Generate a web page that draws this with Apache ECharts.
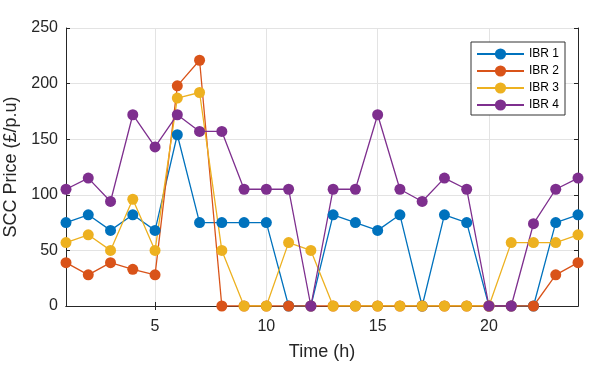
<!DOCTYPE html>
<html>
<head>
<meta charset="utf-8">
<script src="https://cdn.jsdelivr.net/npm/echarts@6/dist/echarts.min.js"></script>
<style>
  html, body { margin: 0; padding: 0; background: #fff; }
  #chart { width: 598px; height: 379px; }
</style>
</head>
<body>
<div id="chart"></div>
<script>
const hours = [1, 2, 3, 4, 5, 6, 7, 8, 9, 10, 11, 12, 13, 14, 15, 16, 17, 18, 19, 20, 21, 22, 23, 24]
const ibr1 = [75, 82, 68, 82, 68, 154, 75, 75, 75, 75, 0, 0, 82, 75, 68, 82, 0, 82, 75, 0, 0, 0, 75, 82]
const ibr2 = [39, 28, 39, 33, 28, 198, 221, 0, 0, 0, 0, 0, 0, 0, 0, 0, 0, 0, 0, 0, 0, 0, 28, 39]
const ibr3 = [57, 64, 50, 96, 50, 187, 192, 50, 0, 0, 57, 50, 0, 0, 0, 0, 0, 0, 0, 0, 57, 57, 57, 64]
const ibr4 = [105, 115, 94, 172, 143, 172, 157, 157, 105, 105, 105, 0, 105, 105, 172, 105, 94, 115, 105, 0, 0, 74, 105, 115]
const xTicks = [5, 10, 15, 20]

const seriesNames = ['IBR 1', 'IBR 2', 'IBR 3', 'IBR 4']
const seriesData = [ibr1, ibr2, ibr3, ibr4]
const colors = ['#0072BD', '#D95319', '#EDB120', '#7E2F8E']

const fontFamily = '"Liberation Sans", Helvetica, Arial, sans-serif'
const axisColor = '#262626'

const chart = echarts.init(document.getElementById('chart'))

const option = {
  animation: false,
  textStyle: { fontFamily: fontFamily },
  grid: { left: 66, right: 20, top: 28, bottom: 73, outerBoundsMode: 'none', containLabel: false },
  legend: {
    orient: 'vertical',
    left: 471,
    top: 42,
    padding: [6, 6, 4, 5],
    itemWidth: 47,
    itemHeight: 14,
    itemGap: 5,
    backgroundColor: '#fff',
    borderColor: '#333',
    borderWidth: 1,
    borderRadius: 0,
    textStyle: { fontSize: 12, color: '#000', fontFamily: fontFamily },
    data: seriesNames
  },
  xAxis: [
    {
      type: 'value',
      min: 1,
      max: 24,
      name: 'Time (h)',
      nameLocation: 'middle',
      nameGap: 37,
      nameTextStyle: { fontSize: 18, color: axisColor },
      axisLine: { show: true, lineStyle: { color: axisColor, width: 1 } },
      axisTick: { show: true, inside: true, length: 4, customValues: xTicks, lineStyle: { color: axisColor } },
      axisLabel: { customValues: xTicks, fontSize: 16, color: axisColor, margin: 13 },
      splitLine: { show: true, lineStyle: { color: '#e3e3e3', width: 1 } }
    },
    {
      type: 'value',
      min: 1,
      max: 24,
      position: 'top',
      axisLine: { show: true, lineStyle: { color: axisColor, width: 1 } },
      axisTick: { show: true, inside: true, length: 4, customValues: xTicks, lineStyle: { color: axisColor } },
      axisLabel: { show: false },
      splitLine: { show: false }
    }
  ],
  yAxis: [
    {
      type: 'value',
      min: 0,
      max: 250,
      interval: 50,
      name: 'SCC Price (£/p.u)',
      nameLocation: 'middle',
      nameGap: 46,
      nameTextStyle: { fontSize: 18, color: axisColor },
      axisLine: { show: true, lineStyle: { color: axisColor, width: 1 } },
      axisTick: { show: true, inside: true, length: 4, lineStyle: { color: axisColor } },
      axisLabel: { fontSize: 16, color: axisColor, margin: 8 },
      splitLine: { show: true, lineStyle: { color: '#e3e3e3', width: 1 } }
    },
    {
      type: 'value',
      min: 0,
      max: 250,
      interval: 50,
      position: 'right',
      axisLine: { show: true, lineStyle: { color: axisColor, width: 1 } },
      axisTick: { show: true, inside: true, length: 4, lineStyle: { color: axisColor } },
      axisLabel: { show: false },
      splitLine: { show: false }
    }
  ],
  series: seriesNames.map((name, i) => ({
    name: name,
    type: 'line',
    xAxisIndex: 0,
    yAxisIndex: 0,
    data: hours.map((h, k) => [h, seriesData[i][k]]),
    symbol: 'circle',
    symbolSize: 11,
    showSymbol: true,
    color: colors[i],
    lineStyle: { width: 1.3, color: colors[i] },
    itemStyle: { color: colors[i] },
    emphasis: { disabled: true }
  }))
}

chart.setOption(option)
</script>
</body>
</html>
